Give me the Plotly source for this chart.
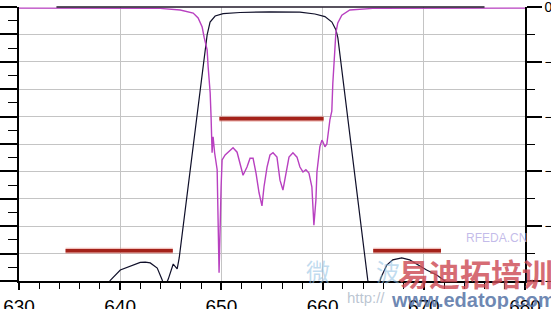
import plotly.graph_objects as go

# ---- data (frequency in MHz, levels in dB) ----
s21_freq = [637.5, 639.02, 640.01, 641.19, 641.98, 642.48, 642.97, 643.66, 644.15, 644.35,
            644.75, 645.24, 645.63, 645.83, 648.59, 648.88, 649.38, 650.17, 651.84, 654.80,
            657.76, 659.24, 660.23, 660.92, 661.32, 661.51, 664.46, 664.66, 665.45, 665.75,
            666.34, 666.93, 667.82, 668.61, 670.28, 671.27, 672.26, 673.0]
s21_db = [-108, -99.8, -96.0, -94.2, -93.2, -93.1, -93.4, -95.3, -99.6, -102.6,
          -99.3, -93.8, -95.6, -91.6, -10.2, -5.5, -3.3, -2.4, -2.0, -1.8,
          -1.9, -2.55, -3.5, -5.5, -8.4, -11.3, -99.6, -103.3, -103.3, -98.9,
          -94.2, -92.3, -91.6, -92.3, -96.0, -97.8, -100.4, -106]

s11_freq = [630.0, 638.04, 643.95, 645.93, 647.21, 647.70, 648.10, 648.29, 648.59, 648.69,
            648.89, 648.98, 649.08, 649.18, 649.33, 649.58, 649.67, 649.77, 649.97, 650.07,
            650.37, 650.86, 651.15, 651.55, 651.84, 652.14, 652.53, 652.83, 653.13, 653.42,
            653.72, 654.01, 654.21, 654.51, 654.80, 655.10, 655.49, 655.79, 656.08, 656.38,
            656.68, 657.07, 657.47, 657.76, 658.06, 658.35, 658.65, 658.94, 659.04, 659.14,
            659.34, 659.44, 659.73, 659.93, 660.03, 660.23, 660.42, 660.52, 660.72, 660.91,
            661.01, 661.21, 661.31, 661.50, 661.90, 662.69, 664.96, 680.0]
s11_db = [-0.2, -0.2, -0.25, -0.55, -1.1, -2.0, -3.65, -5.5, -7.8, -10.9,
          -15.7, -20.1, -26.6, -23.7, -26.6, -29.7, -38.9, -48.5, -32.8, -27.9,
          -27.0, -26.1, -25.7, -26.5, -28.5, -30.7, -29.2, -27.6, -27.6, -30.3,
          -33.9, -36.3, -32.8, -29.2, -27.0, -26.6, -27.4, -31.6, -33.4, -30.3,
          -27.4, -26.6, -27.4, -29.2, -30.1, -29.7, -30.3, -32.8, -36.5, -39.8,
          -35.2, -30.1, -25.5, -24.3, -24.6, -25.5, -25.0, -23.4, -20.6, -19.0,
          -13.9, -7.8, -4.7, -2.9, -1.5, -0.55, -0.25, -0.2]

# spec masks
mask_low_freq = [634.6, 645.2]
mask_low_db = [-89, -89]
mask_pass_freq = [649.8, 660.1]
mask_pass_db = [-20.4, -20.4]
mask_high_freq = [665.0, 671.7]
mask_high_db = [-89, -89]

x_ticks = [630, 640, 650, 660, 670, 680]

W, H = 551, 309
L, R, T, B = 18.5, 25.5, 7, 28
pw, ph = W - L - R, H - T - B

def px(x):
    return (x - L) / pw

def py(y):
    return (H - B - y) / ph

fig = go.Figure()

mask_col = "#a4221a"
halo_col = "rgba(225,120,110,0.45)"
for fx, fy, ax in [(mask_low_freq, mask_low_db, "y"), (mask_pass_freq, mask_pass_db, "y2"),
                   (mask_high_freq, mask_high_db, "y")]:
    fig.add_trace(go.Scatter(x=fx, y=fy, yaxis=ax, mode="lines",
                             line=dict(color=halo_col, width=6), showlegend=False, hoverinfo="skip"))
    fig.add_trace(go.Scatter(x=fx, y=fy, yaxis=ax, mode="lines",
                             line=dict(color=mask_col, width=3.5), showlegend=False, hoverinfo="skip"))

fig.add_trace(go.Scatter(x=s21_freq, y=s21_db, mode="lines", yaxis="y",
                         line=dict(color="#10102a", width=1.2), showlegend=False))
fig.add_trace(go.Scatter(x=s11_freq, y=s11_db, mode="lines", yaxis="y2",
                         line=dict(color="#b840c0", width=1.4), showlegend=False))

font = "Arial, Liberation Sans, sans-serif"
fig.update_layout(
    width=W, height=H,
    margin=dict(l=L, r=R, t=T, b=B, pad=0),
    paper_bgcolor="white", plot_bgcolor="white",
    showlegend=False,
    font=dict(family=font, color="black"),
    xaxis=dict(range=[630, 680], tickvals=x_ticks, ticktext=[str(v) for v in x_ticks],
               ticks="outside", ticklen=7, tickwidth=1.5, tickcolor="black",
               showline=True, linecolor="black", linewidth=1.5,
               showgrid=True, gridcolor="#c4c4c4", gridwidth=1, zeroline=False,
               tickfont=dict(size=19, family=font, color="black"),
               ticklabeloverflow="allow",
               minor=dict(dtick=2, ticks="outside", ticklen=6, tickwidth=1.2,
                          tickcolor="black", showgrid=False),
               automargin=False, fixedrange=True),
    yaxis=dict(range=[-100, 0], dtick=10, tick0=0, ticks="outside", ticklen=19,
               tickwidth=1.5, tickcolor="black", showticklabels=False,
               showline=True, linecolor="black", linewidth=1.5,
               showgrid=True, gridcolor="#c4c4c4", gridwidth=1, zeroline=False,
               minor=dict(dtick=5, tick0=0, ticks="outside", ticklen=9, tickwidth=1.2,
                          tickcolor="black", showgrid=False),
               automargin=False),
    yaxis2=dict(range=[-50, 0], dtick=10, tick0=0, overlaying="y", side="right",
                ticks="outside", ticklen=15, tickwidth=1.5, tickcolor="black",
                showline=True, linecolor="black", linewidth=1.5,
                showgrid=False, zeroline=False,
                tickfont=dict(size=14, family=font, color="black"),
                ticklabeloverflow="allow",
                minor=dict(dtick=5, tick0=0, ticks="outside", ticklen=8, tickwidth=1.2,
                           tickcolor="black"),
                automargin=False),
)

# top dark line
fig.add_shape(type="line", xref="x", yref="paper", x0=633.7, x1=676, y0=1, y1=1,
              line=dict(color="#201828", width=1.6))

# watermarks
def wm(text, x, y, size, color, family="Noto Sans CJK SC", weight="normal"):
    fig.add_annotation(text=text, xref="paper", yref="paper", x=px(x), y=py(y),
                       xanchor="center", yanchor="middle", showarrow=False,
                       font=dict(size=size, family=family, color=color, weight=weight))

wm("微", 318, 270, 24, "rgba(140,190,225,0.55)")
wm("波", 388, 270, 24, "rgba(140,190,225,0.55)")
wm("RFEDA.CN", 497, 238, 12, "rgba(185,175,230,0.85)", family=font)
wm("易迪拓培训", 476, 272, 31, "rgba(205,75,85,0.82)", weight="bold")
wm("http://", 366, 297, 15, "rgba(165,178,195,0.75)", family=font)
wm("www.edatop.com", 474, 300, 20, "rgba(85,115,165,0.85)", family=font, weight="bold")

fig.write_html("out.html")
